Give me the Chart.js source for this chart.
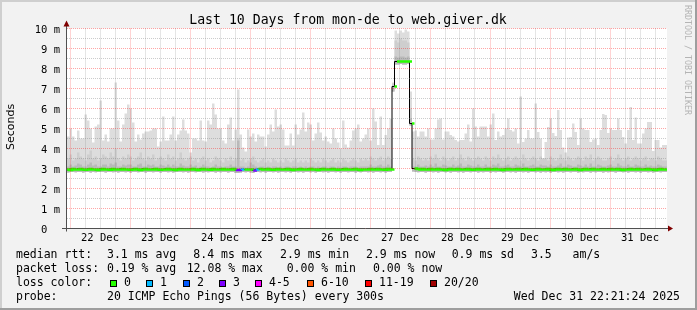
<!DOCTYPE html>
<html>
<head>
<meta charset="utf-8">
<script src="https://cdn.jsdelivr.net/npm/chart.js@4.4.1/dist/chart.umd.min.js"></script>
<style>
  html, body { margin: 0; padding: 0; background: #f2f2f2; }
  #myChart { display: block; }
</style>
</head>
<body>
<canvas id="myChart" width="697" height="310"></canvas>
<script>
// one value per hour, 240 hours = the 10 days shown
const hours = 240;
const firstMidnight = 1.2; // hours from the left edge to 22 Dec 00:00

const dayLabels = ['22 Dec', '23 Dec', '24 Dec', '25 Dec', '26 Dec', '27 Dec', '28 Dec', '29 Dec', '30 Dec', '31 Dec'];
const yTickLabels = ['0  ', '1 m', '2 m', '3 m', '4 m', '5 m', '6 m', '7 m', '8 m', '9 m', '10 m'];

// slowest ping of each hour (ms)
const maxRtt = [
    4.6, 4.6, 5.0, 4.6, 4.4, 4.9, 4.5, 4.5, 5.7, 5.4, 5.0, 4.3, 5.1, 5.2, 6.4, 4.4, 4.7, 4.35, 5.0, 5.0, 7.3, 5.4, 4.35, 5.2,
    5.75, 6.2, 6.0, 5.3, 4.35, 4.7, 4.45, 4.75, 4.85, 4.85, 4.9, 5.0, 5.0, 4.1, 4.35, 5.6, 4.4, 4.4, 4.7, 5.6, 4.4, 4.7, 4.9, 5.45,
    4.9, 4.75, 3.8, 4.5, 4.5, 4.4, 5.4, 4.4, 4.35, 5.4, 5.2, 6.25, 5.7, 5.0, 5.0, 4.4, 4.25, 5.2, 5.55, 4.4, 4.95, 6.95, 4.7, 4.05,
    3.85, 4.95, 4.6, 4.75, 4.35, 4.7, 4.6, 4.6, 4.1, 4.7, 5.2, 4.85, 5.95, 5.1, 5.2, 4.95, 4.15, 4.15, 4.75, 4.15, 5.2, 4.7, 4.95, 5.8,
    4.85, 5.3, 5.2, 4.4, 4.75, 5.3, 4.8, 4.4, 4.6, 4.35, 4.25, 5.0, 4.5, 4.3, 4.0, 5.4, 4.2, 4.05, 4.4, 4.9, 5.0, 5.2, 4.35, 4.5,
    4.7, 5.0, 4.4, 6.0, 5.35, 4.18, 5.6, 4.18, 4.68, 5.0, 5.5, 7.3, 9.9, 9.75, 9.9, 9.8, 9.95, 9.85, 6.85, 4.85, 4.9, 4.6, 4.85, 4.85,
    4.6, 5.0, 4.45, 4.45, 5.0, 5.45, 5.5, 4.45, 4.85, 4.85, 4.68, 4.6, 4.43, 4.35, 4.43, 4.43, 4.75, 5.2, 4.35, 6.0, 5.1, 4.6, 5.1, 5.1,
    5.1, 4.6, 5.2, 5.75, 4.43, 4.85, 4.6, 4.68, 5.0, 5.5, 4.92, 4.85, 5.0, 4.25, 6.6, 4.33, 4.5, 4.92, 4.5, 4.5, 6.25, 4.83, 4.5, 3.5,
    4.33, 5.08, 5.5, 4.78, 4.62, 5.92, 4.92, 4.05, 3.8, 4.55, 4.58, 5.25, 4.83, 4.17, 5.5, 5.0, 4.92, 4.92, 4.33, 4.45, 4.5, 4.17, 4.92, 5.72,
    5.67, 4.78, 5.0, 4.92, 4.92, 5.5, 4.92, 4.58, 4.25, 4.92, 6.08, 4.42, 5.55, 4.25, 4.25, 4.75, 5.0, 5.33, 5.33, 3.88, 4.42, 4.42, 4.05, 4.17
];

// upper smoke band (ms)
const midRtt = [
    3.6, 3.5, 3.7, 3.4, 3.5, 3.8, 3.6, 3.5, 3.4, 3.7, 3.9, 3.5, 3.6, 3.4, 3.5, 3.7, 3.6, 3.5, 3.8, 3.6, 4.0, 3.5, 3.4, 3.6,
    3.5, 3.7, 3.6, 3.4, 3.5, 3.6, 3.8, 3.5, 3.4, 3.6, 3.5, 3.7, 3.4, 3.5, 3.6, 3.5, 3.4, 3.7, 3.5, 3.6, 3.4, 3.5, 3.8, 3.5,
    3.4, 3.5, 3.6, 3.4, 3.5, 3.3, 3.5, 3.6, 3.4, 3.5, 3.3, 3.4, 3.6, 3.5, 3.4, 3.3, 3.5, 3.4, 3.6, 3.4, 3.5, 4.5, 3.4, 3.5,
    3.3, 3.4, 3.5, 3.6, 3.4, 3.3, 3.4, 3.5, 3.3, 3.4, 3.3, 3.5, 3.4, 3.3, 3.4, 3.3, 3.5, 3.4, 3.3, 3.4, 3.5, 3.3, 3.4, 3.3,
    3.4, 3.3, 3.5, 3.4, 3.3, 3.4, 3.3, 3.5, 3.4, 3.3, 3.4, 3.5, 3.3, 3.4, 3.3, 3.5, 3.4, 3.3, 3.4, 3.5, 3.4, 3.3, 3.5, 3.4,
    3.5, 3.4, 3.6, 3.5, 3.4, 3.5, 3.6, 3.4, 3.5, 3.6, 3.5, 7.25, 9.4, 9.3, 9.5, 9.4, 9.4, 9.3, 6.0, 3.5, 3.4, 3.6, 3.5, 3.4,
    3.5, 3.4, 3.6, 3.5, 3.7, 3.5, 3.4, 3.6, 3.5, 3.4, 3.5, 3.6, 3.4, 3.5, 3.7, 3.5, 3.4, 3.6, 3.5, 3.4, 3.5, 3.6, 3.5, 3.4,
    3.6, 3.5, 3.4, 3.6, 3.5, 3.7, 3.5, 3.4, 3.5, 3.6, 3.4, 3.5, 3.6, 3.5, 3.4, 3.7, 3.5, 3.4, 3.5, 3.6, 3.5, 3.4, 3.6, 3.5,
    3.5, 3.4, 3.6, 3.5, 3.4, 3.5, 3.7, 3.5, 3.4, 3.6, 3.5, 3.4, 3.5, 3.6, 3.5, 3.4, 3.6, 3.5, 3.7, 3.4, 3.5, 3.6, 3.5, 3.4,
    3.4, 3.5, 3.6, 3.4, 3.5, 3.7, 3.5, 3.4, 3.5, 3.6, 3.4, 3.5, 3.6, 3.5, 3.4, 3.5, 3.6, 3.4, 3.5, 3.5, 3.4, 3.6, 3.5, 3.4
];

// dense smoke just above the median (ms)
const lowRtt = [
    3.2, 3.1, 3.2, 3.1, 3.15, 3.25, 3.2, 3.1, 3.1, 3.2, 3.3, 3.15, 3.2, 3.1, 3.1, 3.2, 3.2, 3.1, 3.25, 3.2, 3.3, 3.1, 3.1, 3.2,
    3.15, 3.2, 3.2, 3.1, 3.1, 3.2, 3.25, 3.1, 3.1, 3.2, 3.15, 3.2, 3.1, 3.1, 3.2, 3.15, 3.1, 3.2, 3.1, 3.2, 3.1, 3.1, 3.25, 3.15,
    3.1, 3.1, 3.2, 3.1, 3.15, 3.05, 3.1, 3.2, 3.1, 3.1, 3.05, 3.1, 3.2, 3.1, 3.1, 3.05, 3.1, 3.1, 3.2, 3.1, 3.1, 4.4, 3.1, 3.1,
    3.05, 3.1, 3.3, 3.2, 3.1, 3.05, 3.1, 3.1, 3.05, 3.1, 3.05, 3.1, 3.1, 3.05, 3.1, 3.05, 3.1, 3.1, 3.05, 3.1, 3.1, 3.05, 3.1, 3.05,
    3.1, 3.05, 3.1, 3.1, 3.05, 3.1, 3.05, 3.1, 3.1, 3.05, 3.1, 3.1, 3.05, 3.1, 3.05, 3.1, 3.1, 3.05, 3.1, 3.1, 3.1, 3.05, 3.1, 3.1,
    3.1, 3.1, 3.2, 3.1, 3.1, 3.15, 3.2, 3.1, 3.1, 3.2, 3.1, 7.15, 8.6, 8.55, 8.6, 8.6, 8.55, 8.6, 5.5, 3.1, 3.1, 3.2, 3.1, 3.1,
    3.15, 3.1, 3.2, 3.1, 3.25, 3.1, 3.1, 3.2, 3.15, 3.1, 3.1, 3.2, 3.1, 3.15, 3.25, 3.1, 3.1, 3.2, 3.15, 3.1, 3.1, 3.2, 3.1, 3.1,
    3.2, 3.1, 3.1, 3.2, 3.15, 3.25, 3.1, 3.1, 3.15, 3.2, 3.1, 3.1, 3.2, 3.15, 3.1, 3.25, 3.1, 3.1, 3.15, 3.2, 3.1, 3.1, 3.2, 3.15,
    3.15, 3.1, 3.2, 3.1, 3.1, 3.15, 3.25, 3.1, 3.1, 3.2, 3.15, 3.1, 3.1, 3.2, 3.15, 3.1, 3.2, 3.1, 3.25, 3.1, 3.1, 3.2, 3.15, 3.1,
    3.1, 3.15, 3.2, 3.1, 3.1, 3.25, 3.15, 3.1, 3.1, 3.2, 3.1, 3.1, 3.2, 3.15, 3.1, 3.1, 3.2, 3.1, 3.15, 3.1, 3.1, 3.2, 3.15, 3.1
];

// fastest ping of each hour (ms)
const minRtt = [
    2.82, 2.8, 2.83, 2.82, 2.81, 2.83, 2.82, 2.8, 2.82, 2.83, 2.8, 2.82, 2.81, 2.82, 2.83, 2.82, 2.8, 2.82, 2.83, 2.81, 2.82, 2.8, 2.83, 2.82,
    2.81, 2.82, 2.8, 2.83, 2.82, 2.81, 2.82, 2.83, 2.8, 2.82, 2.82, 2.81, 2.83, 2.82, 2.8, 2.82, 2.83, 2.81, 2.82, 2.8, 2.82, 2.83, 2.82, 2.81,
    2.82, 2.8, 2.83, 2.82, 2.81, 2.82, 2.83, 2.8, 2.82, 2.81, 2.83, 2.82, 2.8, 2.82, 2.81, 2.83, 2.82, 2.8, 2.82, 2.83, 2.78, 2.78, 2.8, 2.82,
    2.81, 2.82, 2.8, 2.78, 2.82, 2.83, 2.81, 2.82, 2.8, 2.82, 2.83, 2.81, 2.82, 2.8, 2.83, 2.82, 2.81, 2.82, 2.8, 2.83, 2.82, 2.81, 2.82, 2.8,
    2.82, 2.83, 2.81, 2.82, 2.8, 2.82, 2.83, 2.81, 2.82, 2.8, 2.83, 2.82, 2.81, 2.82, 2.8, 2.83, 2.82, 2.81, 2.82, 2.83, 2.8, 2.82, 2.81, 2.82,
    2.83, 2.81, 2.82, 2.8, 2.82, 2.83, 2.81, 2.82, 2.8, 2.82, 2.83, 6.85, 8.2, 8.2, 8.22, 8.2, 8.2, 8.22, 5.15, 2.85, 2.82, 2.81, 2.83, 2.82,
    2.8, 2.82, 2.83, 2.81, 2.82, 2.8, 2.82, 2.83, 2.81, 2.82, 2.8, 2.83, 2.82, 2.81, 2.82, 2.8, 2.83, 2.82, 2.81, 2.82, 2.83, 2.8, 2.82, 2.81,
    2.82, 2.83, 2.8, 2.82, 2.81, 2.83, 2.82, 2.8, 2.82, 2.83, 2.81, 2.82, 2.8, 2.82, 2.83, 2.81, 2.82, 2.8, 2.83, 2.82, 2.81, 2.82, 2.8, 2.83,
    2.81, 2.82, 2.8, 2.83, 2.82, 2.81, 2.82, 2.8, 2.83, 2.82, 2.81, 2.82, 2.83, 2.8, 2.82, 2.81, 2.83, 2.82, 2.8, 2.82, 2.81, 2.83, 2.82, 2.8,
    2.82, 2.81, 2.83, 2.82, 2.8, 2.82, 2.83, 2.81, 2.82, 2.8, 2.83, 2.82, 2.81, 2.82, 2.8, 2.83, 2.82, 2.81, 2.82, 2.8, 2.82, 2.83, 2.81, 2.82
];

// median rtt of each hour (ms)
const medianRtt = [
    2.95, 2.93, 2.97, 2.95, 2.95, 2.98, 2.95, 2.94, 2.95, 2.97, 2.95, 2.95, 2.93, 2.95, 2.98, 2.95, 2.95, 2.94, 2.97, 2.95, 2.95, 2.95, 2.98, 2.95,
    2.95, 2.94, 2.95, 2.97, 2.95, 2.93, 2.95, 2.98, 2.95, 2.95, 2.95, 2.97, 2.95, 2.94, 2.95, 2.95, 2.98, 2.95, 2.95, 2.93, 2.95, 2.97, 2.95, 2.95,
    2.95, 2.95, 2.97, 2.95, 2.93, 2.95, 2.98, 2.95, 2.95, 2.94, 2.97, 2.95, 2.95, 2.95, 2.98, 2.95, 2.95, 2.95, 2.97, 2.95, 2.92, 2.92, 2.95, 2.95,
    2.95, 2.95, 2.95, 2.9, 2.95, 2.97, 2.95, 2.95, 2.98, 2.95, 2.94, 2.95, 2.97, 2.95, 2.95, 2.95, 2.98, 2.95, 2.93, 2.95, 2.95, 2.97, 2.95, 2.95,
    2.95, 2.97, 2.95, 2.95, 2.93, 2.95, 2.98, 2.95, 2.95, 2.95, 2.97, 2.95, 2.94, 2.95, 2.95, 2.98, 2.95, 2.95, 2.95, 2.97, 2.95, 2.93, 2.95, 2.95,
    2.95, 2.97, 2.95, 2.95, 2.98, 2.95, 2.95, 2.94, 2.97, 2.95, 2.95, 7.1, 8.35, 8.35, 8.35, 8.35, 8.35, 8.35, 5.25, 3.0, 2.98, 2.95, 2.97, 2.95,
    2.95, 2.98, 2.95, 2.95, 2.97, 2.95, 2.95, 2.93, 2.95, 2.98, 2.95, 2.95, 2.97, 2.95, 2.95, 2.95, 2.98, 2.95, 2.94, 2.95, 2.97, 2.95, 2.95, 2.95,
    2.98, 2.95, 2.95, 2.97, 2.95, 2.95, 2.93, 2.95, 2.98, 2.95, 2.95, 2.95, 2.97, 2.95, 2.95, 2.98, 2.95, 2.95, 2.94, 2.95, 2.97, 2.95, 2.95, 2.95,
    2.97, 2.95, 2.92, 2.95, 2.98, 2.95, 2.95, 2.97, 2.95, 2.95, 2.95, 2.98, 2.95, 2.93, 2.95, 2.97, 2.95, 2.95, 2.98, 2.95, 2.95, 2.95, 2.97, 2.95,
    2.95, 2.98, 2.95, 2.95, 2.97, 2.95, 2.93, 2.95, 2.95, 2.98, 2.95, 2.95, 2.97, 2.95, 2.95, 2.95, 2.98, 2.95, 2.95, 2.92, 2.95, 2.97, 2.95, 2.95
];

// hours with packet loss and their loss-colour class
const lossHours = [68, 69, 70, 75, 76];
const lossLevels = [3, 3, 1, 3, 1];

const lossLabels = ['0', '1', '2', '3', '4-5', '6-10', '11-19', '20/20'];
const lossColors = ['#26ff00', '#00b8ff', '#0059ff', '#7e00ff', '#ff00ff', '#ff5500', '#ff0000', '#a10000'];

const minorGrid = 'rgba(128,128,128,0.4)';
const majorGrid = 'rgba(255,0,0,0.35)';
const monoFont = '"DejaVu Sans Mono", "Liberation Mono", monospace';


function stepPoints(values) {
    let pts = values.map((v, i) => ({ x: i, y: v }));
    pts.push({ x: values.length, y: values[values.length - 1] });
    return pts;
}

// median as separate flat pieces so the colour can change per hour
function medianPieces(values) {
    let pts = [];
    for (let i = 0; i < values.length; i++) {
        pts.push({ x: i, y: values[i] });
        pts.push({ x: i + 1, y: values[i] });
    }
    return pts;
}

function lossAt(hour) {
    let k = lossHours.indexOf(hour);
    return k < 0 ? 0 : lossLevels[k];
}


const chromePlugin = {
    id: 'chrome',
    beforeDraw(chart) {
        const c = chart.ctx;
        const a = chart.chartArea;
        const w = chart.width, h = chart.height;
        c.save();
        c.fillStyle = '#f2f2f2';
        c.fillRect(0, 0, w, h);
        c.fillStyle = '#cfcfcf';
        c.fillRect(0, 0, w, 2);
        c.fillRect(0, 0, 2, h);
        c.fillStyle = '#9e9e9e';
        c.fillRect(0, h - 2, w, 2);
        c.fillRect(w - 2, 0, 2, h);
        c.fillStyle = '#ffffff';
        c.fillRect(a.left, a.top, a.right - a.left, a.bottom - a.top);
        c.restore();
    },
    afterDraw(chart) {
        const c = chart.ctx;
        const a = chart.chartArea;
        const xs = chart.scales.x, ys = chart.scales.y;
        const y0 = ys.getPixelForValue(0);
        c.save();

        // axes
        c.strokeStyle = '#505050';
        c.lineWidth = 1;
        c.beginPath();
        c.moveTo(a.left - 0.5, y0 + 3);
        c.lineTo(a.left - 0.5, a.top - 5);
        c.moveTo(a.left - 5, y0);
        c.lineTo(a.right + 2, y0);
        c.stroke();
        c.fillStyle = '#800000';
        c.beginPath();
        c.moveTo(a.left - 0.5, a.top - 8);
        c.lineTo(a.left - 3.5, a.top - 2);
        c.lineTo(a.left + 2.5, a.top - 2);
        c.closePath();
        c.fill();
        c.beginPath();
        c.moveTo(a.right + 6, y0);
        c.lineTo(a.right + 1, y0 - 3);
        c.lineTo(a.right + 1, y0 + 3);
        c.closePath();
        c.fill();

        // tick labels
        c.fillStyle = '#000';
        c.font = '10.5px ' + monoFont;
        c.textAlign = 'right';
        c.textBaseline = 'alphabetic';
        yTickLabels.forEach((t, i) => c.fillText(t, 60, ys.getPixelForValue(i) + 4));
        c.textAlign = 'center';
        dayLabels.forEach((t, d) => c.fillText(t, xs.getPixelForValue(firstMidnight + 12 + 24 * d), 241));

        // title
        c.font = '13.2px ' + monoFont;
        c.fillText('Last 10 Days from mon-de to web.giver.dk', 348, 24);

        // axis title
        c.save();
        c.translate(14, 127);
        c.rotate(-Math.PI / 2);
        c.font = '11px "DejaVu Sans", sans-serif';
        c.textAlign = 'center';
        c.fillText('Seconds', 0, 0);
        c.restore();

        // watermark
        c.save();
        c.translate(685, 60);
        c.rotate(Math.PI / 2);
        c.font = '8.3px ' + monoFont;
        c.fillStyle = '#b4b4b4';
        c.textAlign = 'center';
        c.fillText('RRDTOOL / TOBI OETIKER', 0, 0);
        c.restore();

        // legend
        c.font = '11.5px ' + monoFont;
        c.textAlign = 'left';
        const rows = [
            [[16, 'median rtt:'], [107, '3.1 ms avg'], [193.3, '8.4 ms max'], [280, '2.9 ms min'], [366, '2.9 ms now'], [451.7, '0.9 ms sd'], [531, '3.5   am/s']],
            [[16, 'packet loss:'], [107, '0.19 % avg'], [186.7, '12.08 % max'], [286.7, '0.00 % min'], [373, '0.00 % now']],
            [[16, 'loss color:']],
            [[16, 'probe:'], [107, '20 ICMP Echo Pings (56 Bytes) every 300s']]
        ];
        rows.forEach((row, r) => row.forEach(([x, t]) => c.fillText(t, x, 258 + 14 * r)));
        c.textAlign = 'right';
        c.fillText('Wed Dec 31 22:21:24 2025', 680, 300);

        const boxX = [109.5, 146, 182.7, 219.3, 255, 306.7, 365, 430];
        c.textAlign = 'left';
        lossLabels.forEach((t, i) => {
            const bx = Math.round(boxX[i]);
            c.fillStyle = lossColors[i];
            c.fillRect(bx, 280, 7, 7);
            c.strokeStyle = '#000';
            c.strokeRect(bx + 0.5, 280.5, 6, 6);
            c.fillStyle = '#000';
            c.fillText(t, bx + 14, 286);
        });

        c.restore();
    }
};


function drawChart() {
    const ctx = document.getElementById('myChart');

    new Chart(ctx, {
        type: 'line',
        data: {
            datasets: [
                {
                    label: 'min',
                    data: stepPoints(minRtt),
                    stepped: 'after',
                    borderColor: 'rgba(0,0,0,0)',
                    borderWidth: 0,
                    pointRadius: 0,
                    fill: false,
                    order: 10
                },
                {
                    label: 'max',
                    data: stepPoints(maxRtt),
                    stepped: 'after',
                    borderColor: 'rgba(0,0,0,0)',
                    borderWidth: 0,
                    backgroundColor: '#dddddd',
                    pointRadius: 0,
                    fill: 0,
                    order: 5
                },
                {
                    label: 'mid',
                    data: stepPoints(midRtt),
                    stepped: 'after',
                    borderColor: 'rgba(0,0,0,0)',
                    borderWidth: 0,
                    backgroundColor: '#cecece',
                    pointRadius: 0,
                    fill: 0,
                    order: 4
                },
                {
                    label: 'low',
                    data: stepPoints(lowRtt),
                    stepped: 'after',
                    borderColor: 'rgba(0,0,0,0)',
                    borderWidth: 0,
                    backgroundColor: '#b9b9b9',
                    pointRadius: 0,
                    fill: 0,
                    order: 3
                },
                {
                    label: 'median',
                    data: stepPoints(medianRtt),
                    stepped: 'after',
                    borderColor: '#000000',
                    borderWidth: 1,
                    pointRadius: 0,
                    fill: false,
                    order: 2
                },
                {
                    label: 'loss',
                    data: medianPieces(medianRtt),
                    borderWidth: 2.5,
                    borderColor: lossColors[0],
                    pointRadius: 0,
                    fill: false,
                    order: 1,
                    segment: {
                        borderColor: (s) => {
                            if (Math.abs(s.p0.parsed.y - s.p1.parsed.y) > 0.3) return 'rgba(0,0,0,0)';
                            return lossColors[lossAt(Math.floor(s.p0.parsed.x))];
                        }
                    }
                }
            ]
        },
        options: {
            responsive: false,
            animation: false,
            devicePixelRatio: 1,
            layout: { padding: { left: 67, top: 28.5, right: 30, bottom: 81.5 } },
            plugins: {
                legend: { display: false },
                tooltip: { enabled: false }
            },
            scales: {
                x: {
                    type: 'linear',
                    min: 0,
                    max: hours,
                    afterBuildTicks: (scale) => {
                        let ticks = [];
                        for (let t = firstMidnight; t <= hours; t += 6) ticks.push({ value: t });
                        scale.ticks = ticks;
                    },
                    ticks: { display: false },
                    border: { display: false, dash: [1, 1] },
                    grid: {
                        z: 1,
                        drawTicks: false,
                        lineWidth: 1,
                        color: (g) => g.index % 4 === 0 ? majorGrid : minorGrid
                    }
                },
                y: {
                    min: 0,
                    max: 10,
                    afterBuildTicks: (scale) => {
                        let ticks = [];
                        for (let v = 0; v <= 10; v += 0.5) ticks.push({ value: v });
                        scale.ticks = ticks;
                    },
                    ticks: { display: false },
                    border: { display: false, dash: [1, 1] },
                    grid: {
                        z: 1,
                        drawTicks: false,
                        lineWidth: 1,
                        color: (g) => g.tick && g.tick.value % 1 === 0 ? majorGrid : minorGrid
                    }
                }
            }
        },
        plugins: [chromePlugin]
    });
}

drawChart();
</script>
</body>
</html>
